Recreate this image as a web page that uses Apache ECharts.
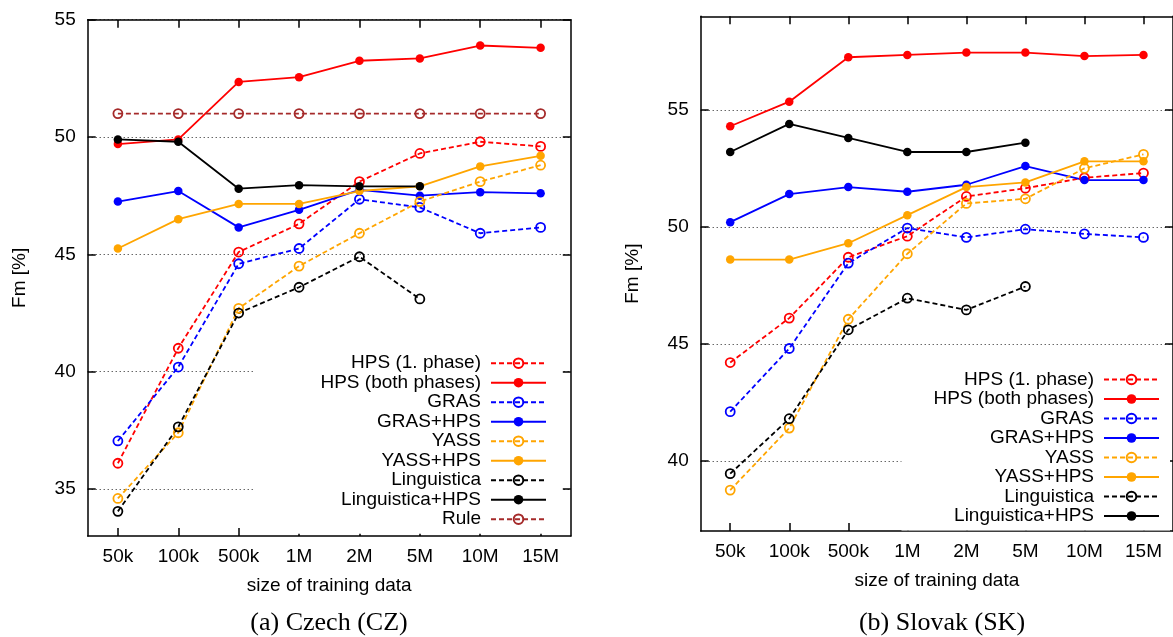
<!DOCTYPE html>
<html>
<head>
<meta charset="utf-8">
<script src="https://cdn.jsdelivr.net/npm/echarts@6/dist/echarts.min.js"></script>
<style>
    html, body { margin: 0; padding: 0; background: #fff; }
    #chart { width: 1173px; height: 637px; }
</style>
</head>
<body>
<div id="chart"></div>
<script>
// training data sizes (x axis)
var categories = ['50k', '100k', '500k', '1M', '2M', '5M', '10M', '15M'];
var seriesNames = ['HPS (1. phase)', 'HPS (both phases)', 'GRAS', 'GRAS+HPS', 'YASS', 'YASS+HPS', 'Linguistica', 'Linguistica+HPS', 'Rule'];

// Czech (CZ), Fm [%]
var czHps1     = [36.1, 41.0, 45.1, 46.3, 48.1, 49.3, 49.8, 49.6];
var czHpsBoth  = [49.7, 49.9, 52.35, 52.55, 53.25, 53.35, 53.9, 53.8];
var czGras     = [37.05, 40.2, 44.6, 45.25, 47.35, 47.0, 45.9, 46.15];
var czGrasHps  = [47.25, 47.7, 46.15, 46.9, 47.75, 47.5, 47.65, 47.6];
var czYass     = [34.6, 37.4, 42.7, 44.5, 45.9, 47.25, 48.1, 48.8];
var czYassHps  = [45.25, 46.5, 47.15, 47.15, 47.7, 47.9, 48.75, 49.2];
var czLing     = [34.05, 37.65, 42.5, 43.6, 44.9, 43.1, null, null];
var czLingHps  = [49.9, 49.8, 47.8, 47.95, 47.9, 47.9, null, null];
var czRule     = [51.0, 51.0, 51.0, 51.0, 51.0, 51.0, 51.0, 51.0];

// Slovak (SK), Fm [%]
var skHps1     = [44.2, 46.1, 48.7, 49.6, 51.3, 51.65, 52.1, 52.3];
var skHpsBoth  = [54.3, 55.35, 57.25, 57.35, 57.45, 57.45, 57.3, 57.35];
var skGras     = [42.1, 44.8, 48.45, 49.95, 49.55, 49.9, 49.7, 49.55];
var skGrasHps  = [50.2, 51.4, 51.7, 51.5, 51.8, 52.6, 52.0, 52.0];
var skYass     = [38.75, 41.4, 46.05, 48.85, 51.0, 51.2, 52.5, 53.1];
var skYassHps  = [48.6, 48.6, 49.3, 50.5, 51.7, 51.9, 52.8, 52.8];
var skLing     = [39.45, 41.8, 45.6, 46.95, 46.45, 47.45, null, null];
var skLingHps  = [53.2, 54.4, 53.8, 53.2, 53.2, 53.6, null, null];

// y tick labels
var czTicks = [35, 40, 45, 50, 55];
var skTicks = [40, 45, 50, 55];

!function(win){
    var FONT = 'Liberation Sans';
    var look = {
        'HPS (1. phase)':    {color: '#ff0000', dashed: true},
        'HPS (both phases)': {color: '#ff0000', dashed: false},
        'GRAS':              {color: '#0000ff', dashed: true},
        'GRAS+HPS':          {color: '#0000ff', dashed: false},
        'YASS':              {color: '#ffa500', dashed: true},
        'YASS+HPS':          {color: '#ffa500', dashed: false},
        'Linguistica':       {color: '#000000', dashed: true},
        'Linguistica+HPS':   {color: '#000000', dashed: false},
        'Rule':              {color: '#a52a2a', dashed: true}
    };
    var frame = {color: '#000', width: 1.5};
    var txt = {fontSize: 19, fontFamily: FONT, color: '#000'};

    function xAxis(grid, pos){
        return {
            type: 'category', gridIndex: grid, position: pos, data: categories, boundaryGap: true,
            axisLine: {show: true, onZero: false, lineStyle: frame},
            axisTick: {show: true, inside: true, length: 8, alignWithLabel: true, lineStyle: frame},
            axisLabel: Object.assign({show: pos == 'bottom', margin: 11}, txt),
            splitLine: {show: false},
            name: pos == 'bottom' ? 'size of training data' : '',
            nameLocation: 'middle', nameGap: 40, nameTextStyle: txt
        };
    }
    function yAxis(grid, pos, min, max, ticks){
        return {
            type: 'value', gridIndex: grid, position: pos, min: min, max: max,
            axisLine: {show: true, lineStyle: frame},
            axisTick: {show: true, inside: true, length: 8, customValues: ticks, lineStyle: frame},
            axisLabel: Object.assign({show: pos == 'left', margin: 12, customValues: ticks}, txt),
            splitLine: {show: pos == 'left', lineStyle: {color: '#222', width: 1, type: [1, 3]}},
            name: pos == 'left' ? 'Fm [%]' : '',
            nameLocation: 'middle', nameGap: 58, nameTextStyle: txt
        };
    }
    function line(name, data, grid){
        var s = look[name];
        return {
            type: 'line', name: name, data: data,
            xAxisIndex: grid * 2, yAxisIndex: grid * 2,
            symbol: 'circle', symbolSize: s.dashed ? 9 : 8.5, showSymbol: true,
            lineStyle: {color: s.color, width: 1.8, type: s.dashed ? [5, 3] : 'solid'},
            itemStyle: s.dashed ?
                {color: 'rgba(0,0,0,0)', borderColor: s.color, borderWidth: 1.8} :
                {color: s.color, borderWidth: 0},
            emphasis: {disabled: true},
            animation: false
        };
    }
    function legend(names, right, top, pad){
        return {
            data: names, orient: 'vertical', align: 'right',
            right: right, top: top, padding: pad,
            itemWidth: 55, itemHeight: 12, itemGap: 0.5,
            backgroundColor: '#fff', selectedMode: false,
            textStyle: Object.assign({padding: [0, 5, 0, 0]}, txt)
        };
    }
    function caption(text, x){
        return {
            text: text, left: x, top: 610, textAlign: 'center', padding: 0,
            textStyle: {fontSize: 26, fontWeight: 'normal', fontFamily: 'Liberation Serif', color: '#000'}
        };
    }

    var series = [
        line('HPS (1. phase)', czHps1, 0),
        line('HPS (both phases)', czHpsBoth, 0),
        line('GRAS', czGras, 0),
        line('GRAS+HPS', czGrasHps, 0),
        line('YASS', czYass, 0),
        line('YASS+HPS', czYassHps, 0),
        line('Linguistica', czLing, 0),
        line('Linguistica+HPS', czLingHps, 0),
        line('Rule', czRule, 0),
        line('HPS (1. phase)', skHps1, 1),
        line('HPS (both phases)', skHpsBoth, 1),
        line('GRAS', skGras, 1),
        line('GRAS+HPS', skGrasHps, 1),
        line('YASS', skYass, 1),
        line('YASS+HPS', skYassHps, 1),
        line('Linguistica', skLing, 1),
        line('Linguistica+HPS', skLingHps, 1)
    ];

    var option = {
        animation: false,
        backgroundColor: '#fff',
        title: [caption('(a) Czech (CZ)', 329), caption('(b) Slovak (SK)', 942)],
        grid: [
            {left: 87.7, right: 602.2, top: 19.7, bottom: 101},
            {left: 700.7, right: -10.5, top: 16.3, bottom: 106}
        ],
        xAxis: [xAxis(0, 'bottom'), xAxis(0, 'top'), xAxis(1, 'bottom'), xAxis(1, 'top')],
        yAxis: [
            yAxis(0, 'left', 33, 55, czTicks), yAxis(0, 'right', 33, 55, czTicks),
            yAxis(1, 'left', 37, 59, skTicks), yAxis(1, 'right', 37, 59, skTicks)
        ],
        legend: [
            legend(seriesNames, 611, 348.7, [5, 15, 5, 66]),
            legend(seriesNames.slice(0, 8), 3, 365, [5, 10, 5, 32])
        ],
        series: series
    };
    var chrt = echarts.init(document.getElementById('chart'));
    chrt.setOption(option);
}(window);
</script>
</body>
</html>
